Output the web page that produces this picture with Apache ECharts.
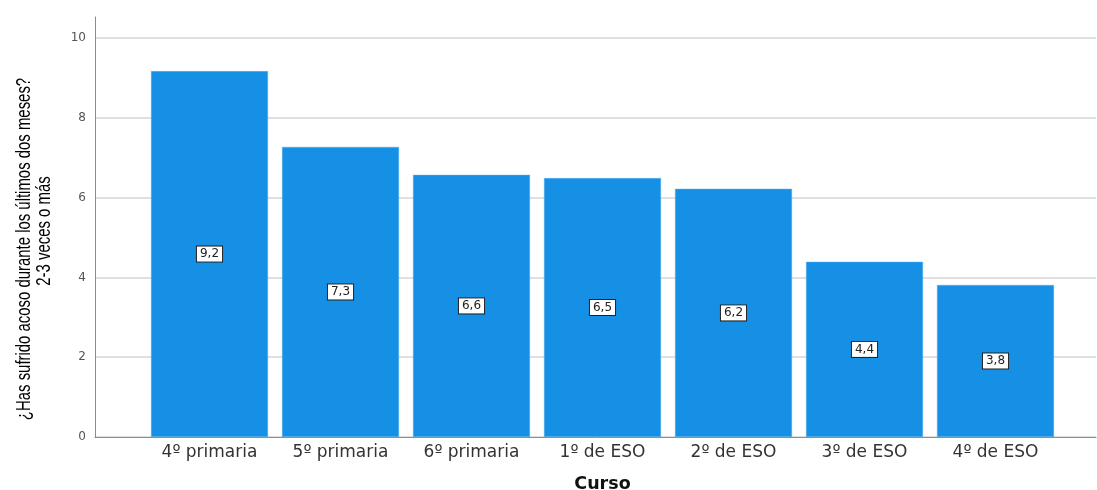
<!DOCTYPE html>
<html><head><meta charset="utf-8">
<script src="https://cdn.jsdelivr.net/npm/echarts@6/dist/echarts.min.js"></script>
<style>html,body{margin:0;padding:0;background:#fff}#c{width:1097px;height:490px}</style>
</head><body><div id="c"></div>
<script>
const categories = ['4º primaria','5º primaria','6º primaria','1º de ESO','2º de ESO','3º de ESO','4º de ESO'];
const values = [9.17, 7.27, 6.57, 6.49, 6.22, 4.39, 3.81];
const yTicks = [0, 2, 4, 6, 8, 10];
const yTitleLines = ['¿Has sufrido acoso durante los últimos dos meses?', '2-3 veces o más'];
const xTitle = 'Curso';

const chart = echarts.init(document.getElementById('c'));
const titleFont = '21px "Liberation Sans", Arial';
chart.setOption({
  animation: false,
  backgroundColor: '#fff',
  grid: [
    {left: 144, width: 917, top: 38, bottom: 53, outerBoundsMode: 'none', containLabel: false},
    {left: 95, right: 1, top: 38, bottom: 53, outerBoundsMode: 'none', containLabel: false},
    {left: 95, right: 1, top: 17, bottom: 53, outerBoundsMode: 'none', containLabel: false}
  ],
  graphic: [
    {type: 'text', x: 24, y: 249, rotation: Math.PI / 2, scaleX: 0.71, silent: true,
     style: {text: yTitleLines[0], font: titleFont, fill: '#000', textAlign: 'center', textVerticalAlign: 'middle'}},
    {type: 'text', x: 44, y: 231, rotation: Math.PI / 2, scaleX: 0.71, silent: true,
     style: {text: yTitleLines[1], font: titleFont, fill: '#000', textAlign: 'center', textVerticalAlign: 'middle'}}
  ],
  xAxis: [
    {gridIndex: 0, type: 'category', data: categories,
     axisLine: {show: false}, axisTick: {show: false},
     axisLabel: {color: '#333', fontSize: 17, fontFamily: 'DejaVu Sans', margin: 7},
     name: xTitle, nameLocation: 'middle', nameGap: 38,
     nameTextStyle: {color: '#111', fontSize: 17.5, fontWeight: 'bold', fontFamily: 'DejaVu Sans'}},
    {gridIndex: 1, type: 'value', min: 0, max: 1, show: true,
     axisLine: {show: true, onZero: false, lineStyle: {color: '#8c8c8c', width: 1}},
     axisTick: {show: false}, axisLabel: {show: false}, splitLine: {show: false}},
    {gridIndex: 2, type: 'value', min: 0, max: 1, show: false}
  ],
  yAxis: [
    {gridIndex: 0, type: 'value', min: yTicks[0], max: yTicks[yTicks.length-1], interval: 2, show: false},
    {gridIndex: 1, type: 'value', min: yTicks[0], max: yTicks[yTicks.length-1], interval: 2,
     axisLine: {show: false}, axisTick: {show: false},
     axisLabel: {color: '#555', fontSize: 12, fontFamily: 'DejaVu Sans', margin: 9},
     splitLine: {show: true, lineStyle: {color: '#d6d6d6', width: 1.5}}},
    {gridIndex: 2, type: 'value', min: 0, max: 1,
     axisLine: {show: true, lineStyle: {color: '#8c8c8c', width: 1}},
     axisTick: {show: false}, axisLabel: {show: false}, splitLine: {show: false}}
  ],
  series: [{
    type: 'bar', xAxisIndex: 0, yAxisIndex: 0, data: values, barWidth: 117,
    itemStyle: {color: '#1590e5', borderColor: '#5aaef0', borderWidth: 0.5},
    label: {show: true, position: 'inside', formatter: p => p.value.toFixed(1).replace('.', ','),
      color: '#222', fontSize: 12, fontFamily: 'DejaVu Sans',
      backgroundColor: '#fff', borderColor: '#222', borderWidth: 1, padding: [2, 3, 1, 3]}
  }]
});
</script></body></html>
